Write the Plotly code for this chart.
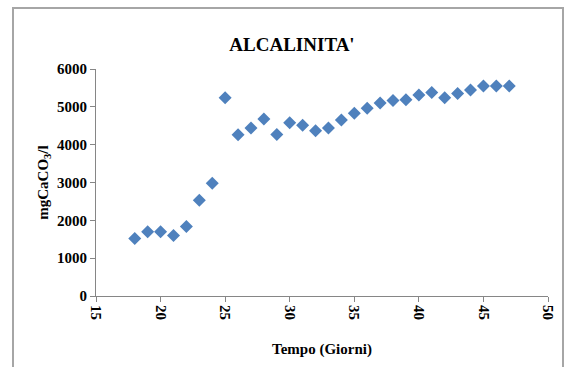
import plotly.graph_objects as go

# Alkalinity over time (days)
giorni = [18, 19, 20, 21, 22, 23, 24, 25, 26, 27, 28, 29, 30, 31, 32, 33,
          34, 35, 36, 37, 38, 39, 40, 41, 42, 43, 44, 45, 46, 47]
alcalinita = [1520, 1700, 1700, 1600, 1840, 2530, 2980, 5240, 4260, 4440,
              4680, 4270, 4580, 4510, 4370, 4440, 4650, 4830, 4960, 5100,
              5170, 5190, 5310, 5380, 5240, 5350, 5445, 5550, 5550, 5550]

x_ticks = [15, 20, 25, 30, 35, 40, 45, 50]
y_ticks = [0, 1000, 2000, 3000, 4000, 5000, 6000]

W, H = 567, 367
L, R, T, B = 96, 19, 69, 71
pw, ph = W - L - R, H - T - B

serif = "Liberation Serif"
axis_col = "#868686"

fig = go.Figure()
fig.add_trace(go.Scatter(
    x=giorni, y=alcalinita, mode="markers",
    marker=dict(symbol="diamond", size=10, color="#4F81BD",
                line=dict(width=0)),
    showlegend=False, cliponaxis=False,
))

fig.update_layout(
    width=W, height=H,
    margin=dict(l=L, r=R, t=T, b=B),
    paper_bgcolor="white", plot_bgcolor="white",
    font=dict(family=serif, color="black"),
    title=dict(text="<b>ALCALINITA'</b>", x=292 / W, xanchor="center",
               y=1 - 44 / H, yanchor="middle", yref="container",
               font=dict(family=serif, size=19, color="black")),
    xaxis=dict(
        range=[15, 50], tickvals=x_ticks, ticktext=[f"<b>{v}</b>" for v in x_ticks],
        tickangle=90, ticks="outside", ticklen=5, tickcolor=axis_col,
        showline=True, linecolor=axis_col, linewidth=1, showgrid=False,
        zeroline=False, tickfont=dict(family=serif, size=15, color="black"),
        title=dict(text="<b>Tempo (Giorni)</b>", standoff=24,
                   font=dict(family=serif, size=15, color="black")),
    ),
    yaxis=dict(
        range=[0, 6000], tickvals=y_ticks, ticktext=[f"<b>{v}</b>" for v in y_ticks],
        ticks="outside", ticklen=5, tickcolor=axis_col,
        showline=True, linecolor=axis_col, linewidth=1, showgrid=False,
        zeroline=False, tickfont=dict(family=serif, size=15, color="black"),
        title=dict(text="<b>mgCaCO<sub>3</sub>/l</b>", standoff=4,
                   font=dict(family=serif, size=15, color="black")),
    ),
    shapes=[dict(
        type="rect", xref="paper", yref="paper",
        x0=(13 - L) / pw, x1=(563 - L) / pw,
        y0=(H - T - (H + 5)) / ph, y1=(H - T - 10) / ph,
        line=dict(color="#A6A6A6", width=2), fillcolor="rgba(0,0,0,0)",
        layer="below",
    )],
)

fig.write_html("out.html")
